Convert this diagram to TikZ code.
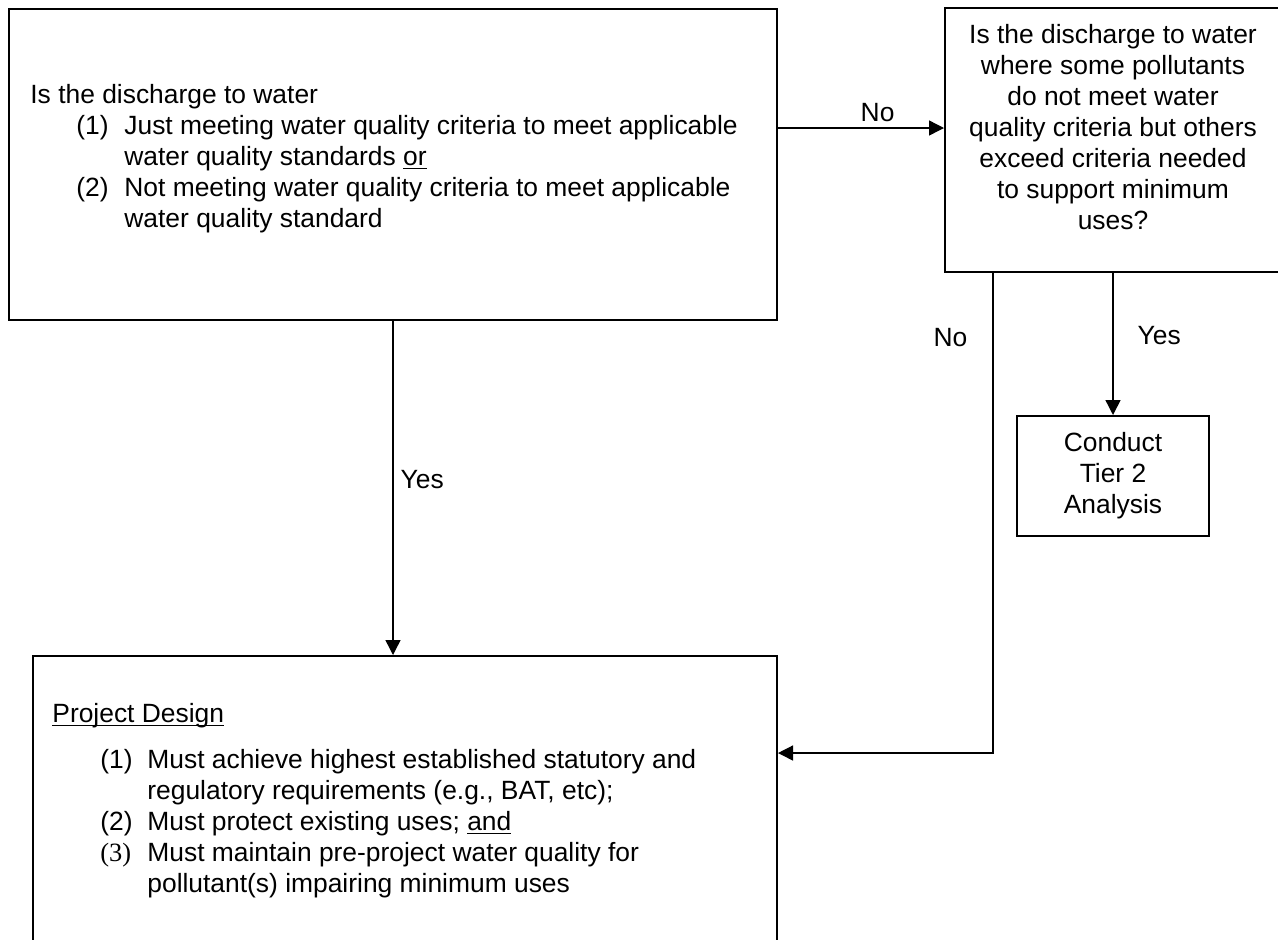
\documentclass[tikz,border=0pt]{standalone}
\usepackage{fontspec}
\setmainfont{Liberation Sans}
\newfontfamily\qserif{Liberation Serif}
\usetikzlibrary{arrows.meta}
\newcommand{\qfont}{\fontsize{13.2}{15.5}\selectfont}
\newcommand{\undl}[1]{\setbox0\hbox{#1}\rlap{\rule[-2.2pt]{\wd0}{0.7pt}}#1}
\tikzset{
  box/.style= {draw, line width=1pt, inner sep=0},
  txt/.style= {inner sep=0, font=\qfont},
  lbl/.style= {inner sep=3pt, font=\qfont},
  arr/.style= {line width=0.7pt, -{Triangle[length=7.5pt, width=7.5pt]}},
}

\begin{document}
\begin{tikzpicture}[x=0.5pt, y=-0.5pt]
  \useasboundingbox (0,0) rectangle (1278,939);
  \clip (0,0) rectangle (1278,939);

  \node [box, minimum width=384pt, minimum height=155.5pt] (q1) at (393,164.5) {};
  \node [box, minimum width=168pt, minimum height=132pt] (q2) at (1113,140) {};
  \node [box, minimum width=96pt, minimum height=60pt, font=\qfont, align=center] (q3) at (1113,476) {Conduct\\Tier 2\\Analysis};
  \node [box, minimum width=372pt, minimum height=152pt] (q4) at (405,808) {};

  \node [txt, anchor=base west] (t1) at (30,103) {\begin{tabular}[t]{@{\hspace{23pt}}p{24pt}@{}l@{}}
    \multicolumn{2}{@{}l@{}}{Is the discharge to water}\\
    (1) & Just meeting water quality criteria to meet applicable\\
        & water quality standards \undl{or}\\
    (2) & Not meeting water quality criteria to meet applicable\\
        & water quality standard
  \end{tabular}};
  \node [txt, anchor=base] (t2) at (1113,43) {\begin{tabular}[t]{@{}c@{}}
    Is the discharge to water\\ where some pollutants\\ do not meet water\\
    quality criteria but others\\ exceed criteria needed\\ to support minimum\\ uses?
  \end{tabular}};
  \node [txt, anchor=base west] (t4) at (52,722) {\begin{tabular}[t]{@{\hspace{24pt}}p{23.5pt}@{}l@{}}
    \multicolumn{2}{@{}l@{}}{\undl{Project Design}}\\[7.5pt]
    (1) & Must achieve highest established statutory and\\
        & regulatory requirements (e.g., BAT, etc);\\
    (2) & Must protect existing uses; \undl{and}\\
    {\qserif (3)} & Must maintain pre-project water quality for\\
        & pollutant(s) impairing minimum uses
  \end{tabular}};

  \coordinate (nolvl) at (0,128);
  \coordinate (bend) at (993,753);

  \draw [arr] (q1.east |- nolvl) -- node [lbl, above, pos=0.6] {No} (q2.west |- nolvl);
  \draw [arr] (q1.south) -- node [lbl, right=0.5pt, pos=0.475] {Yes} (q1.south |- q4.north);
  \draw [arr] (q2.south) -- node [lbl, right=9pt, pos=0.44] {Yes} (q3.north);
  \draw [arr] (q2.south -| bend) |- node [lbl, left=9.5pt, pos=0.067] {No} (q4.east |- bend);
\end{tikzpicture}
\end{document}
